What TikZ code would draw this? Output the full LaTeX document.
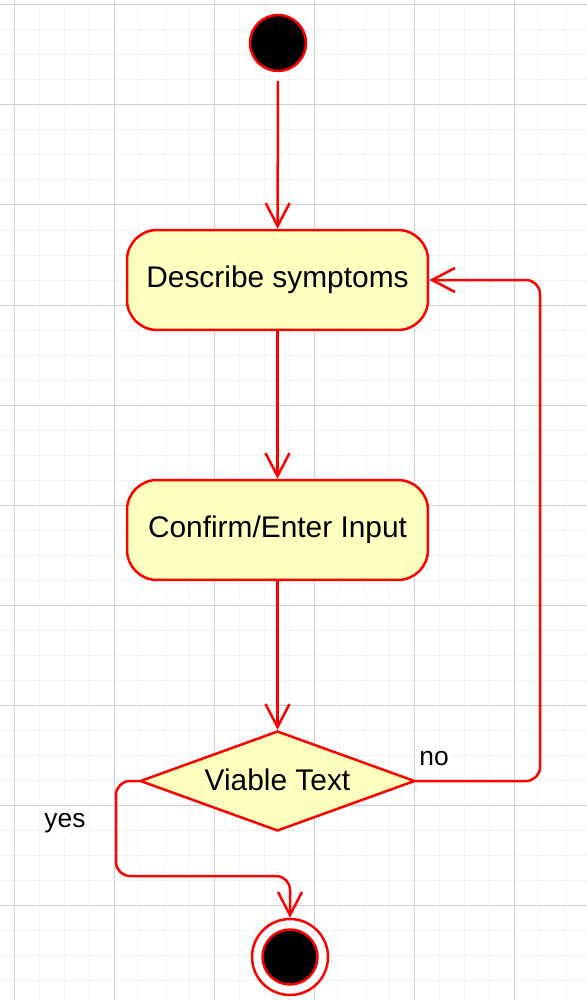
\documentclass[tikz,border=0pt]{standalone}
\usepackage{fontspec}
\setmainfont{Liberation Sans}
\usetikzlibrary{shapes.geometric,arrows.meta}

\definecolor{umlred}{HTML}{FF0000}
\definecolor{umlfill}{HTML}{FFFFC0}
\definecolor{gridmin}{HTML}{F2F2F2}
\definecolor{gridmaj}{HTML}{D0D0D0}

\tikzset{
  activity/.style={draw=umlred, fill=umlfill, line width=0.05cm, rounded corners=0.6cm,
    minimum width=6.02cm, minimum height=2cm, font=\fontsize{17}{20}\selectfont},
  decision/.style={diamond, draw=umlred, fill=umlfill, line width=0.05cm, shape aspect=2.75,
    inner sep=0pt, minimum width=5.5cm, minimum height=2cm, font=\fontsize{17}{20}\selectfont},
  flow/.style={draw=umlred, line width=0.05cm, -{Straight Barb[length=0.46cm,width=0.48cm]}},
  guard/.style={fill=white, inner sep=2pt, font=\fontsize{15}{18}\selectfont}
}

\begin{document}
\begin{tikzpicture}[x=0.02cm, y=-0.02cm]
    %fond
    \fill[white] (0,0) rectangle (587,1000);
    \useasboundingbox (0,0) rectangle (587,1000);
    %grille
    \foreach \x in {14,39,...,587} \draw[gridmin, line width=0.02cm] (\x,0) -- (\x,1000);
    \foreach \y in {5,30,...,1000} \draw[gridmin, line width=0.02cm] (0,\y) -- (587,\y);
    \foreach \x in {14,114,...,587} \draw[gridmaj, line width=0.02cm] (\x,0) -- (\x,1000);
    \foreach \y in {5,105,...,1000} \draw[gridmaj, line width=0.02cm] (0,\y) -- (587,\y);
    %noeuds
    \node[circle, draw=umlred, fill=black, line width=0.05cm, minimum size=1.12cm] (start) at (278,43) {};
    \node[activity] (describe) at (277.5,280) {Describe symptoms};
    \node[activity] (confirm) at (277.5,530) {Confirm/Enter Input};
    \node[decision] (viable) at (277.5,781) {\raisebox{1.5pt}{Viable Text}};
    \node[circle, draw=umlred, fill=white, line width=0.05cm, minimum size=1.52cm] (stop) at (290,957) {};
    \node[circle, draw=umlred, fill=black, line width=0.05cm, minimum size=1.1cm] (stopdot) at (stop) {};
    \coordinate (noturn) at (540,280);
    \coordinate (yesturn) at (116,876);
    %fleches
    \draw[flow, shorten <=0.18cm] (start) -- (describe);
    \draw[flow] (describe) -- (confirm);
    \draw[flow] (confirm) -- (viable);
    \draw[flow, rounded corners=0.28cm] (viable.east) -| (noturn) -- (describe.east);
    \draw[flow, rounded corners=0.28cm] (viable.west) -| (yesturn) -| (stop.north);
    %etiquettes
    \node[guard] (no) at (434,759) {no};
    \node[guard] (yes) at (65,823) {yes};
  \end{tikzpicture}
\end{document}
